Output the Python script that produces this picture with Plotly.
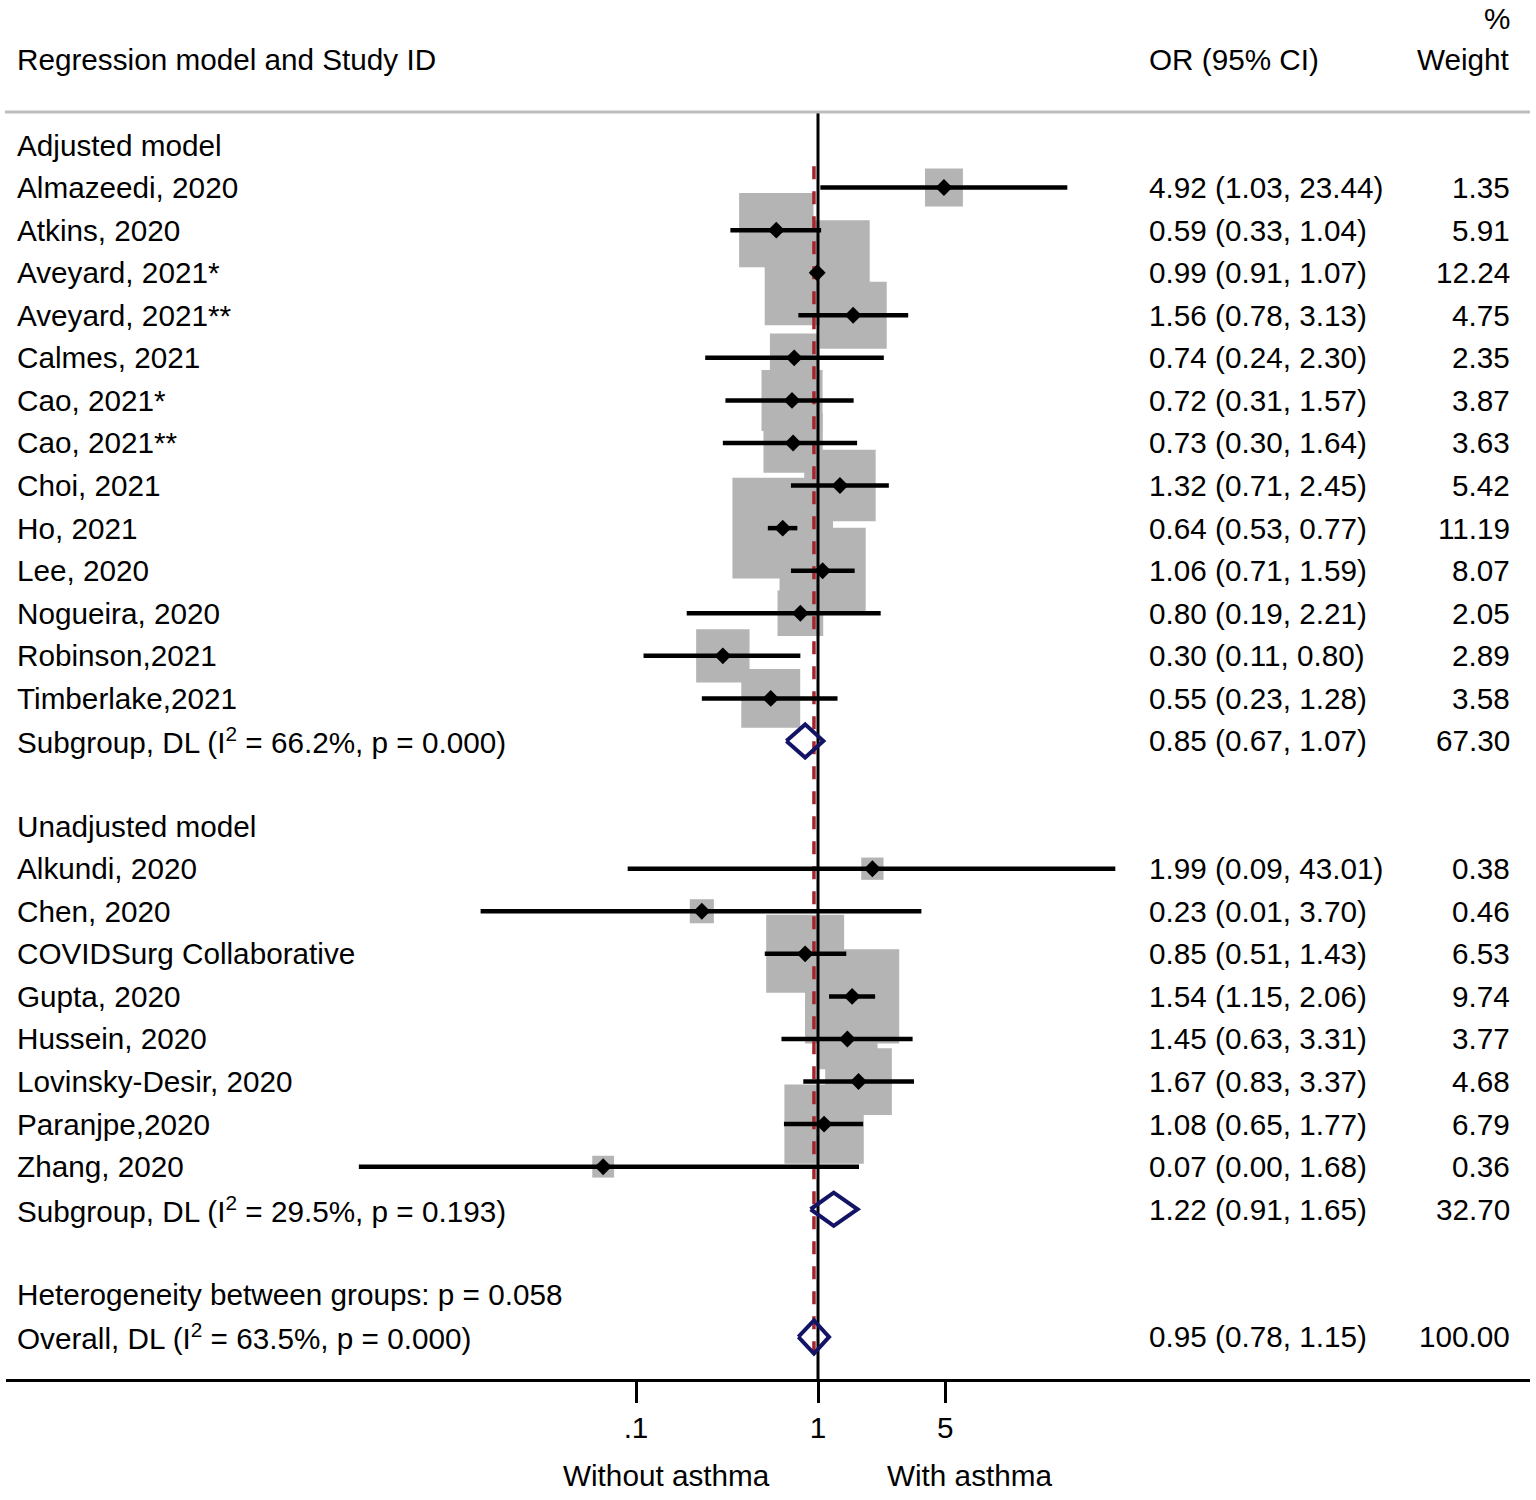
import math
import plotly.graph_objects as go

# ---------------- data ----------------
adj_labels = ["Almazeedi, 2020", "Atkins, 2020", "Aveyard, 2021*", "Aveyard, 2021**",
              "Calmes, 2021", "Cao, 2021*", "Cao, 2021**", "Choi, 2021", "Ho, 2021",
              "Lee, 2020", "Nogueira, 2020", "Robinson,2021", "Timberlake,2021"]
adj_or = [4.92, 0.59, 0.99, 1.56, 0.74, 0.72, 0.73, 1.32, 0.64, 1.06, 0.80, 0.30, 0.55]
adj_lo = [1.03, 0.33, 0.91, 0.78, 0.24, 0.31, 0.30, 0.71, 0.53, 0.71, 0.19, 0.11, 0.23]
adj_hi = [23.44, 1.04, 1.07, 3.13, 2.30, 1.57, 1.64, 2.45, 0.77, 1.59, 2.21, 0.80, 1.28]
adj_w = [1.35, 5.91, 12.24, 4.75, 2.35, 3.87, 3.63, 5.42, 11.19, 8.07, 2.05, 2.89, 3.58]

unadj_labels = ["Alkundi, 2020", "Chen, 2020", "COVIDSurg Collaborative", "Gupta, 2020",
                "Hussein, 2020", "Lovinsky-Desir, 2020", "Paranjpe,2020", "Zhang, 2020"]
unadj_or = [1.99, 0.23, 0.85, 1.54, 1.45, 1.67, 1.08, 0.066]
unadj_lo = [0.09, 0.014, 0.51, 1.15, 0.63, 0.83, 0.65, 0.003]
unadj_hi = [43.01, 3.70, 1.43, 2.06, 3.31, 3.37, 1.77, 1.68]
unadj_w = [0.38, 0.46, 6.53, 9.74, 3.77, 4.68, 6.79, 0.36]

group_titles = ["Adjusted model", "Unadjusted model"]
sub_labels = ["Subgroup, DL (I<sup>2</sup> = 66.2%, p = 0.000)",
              "Subgroup, DL (I<sup>2</sup> = 29.5%, p = 0.193)"]
sub_or = [0.85, 1.22]
sub_lo = [0.67, 0.91]
sub_hi = [1.07, 1.65]
sub_w = [67.30, 32.70]

het_label = "Heterogeneity between groups: p = 0.058"
overall_label = "Overall, DL (I<sup>2</sup> = 63.5%, p = 0.000)"
overall_or = 0.95
overall_lo = 0.78
overall_hi = 1.15
overall_w = 100.00

header_left = "Regression model and Study ID"
header_or = "OR (95% CI)"
header_w1 = "%"
header_w2 = "Weight"

tick_vals = [0.1, 1, 5]
tick_text = [".1", "1", "5"]
side_labels = ["Without asthma", "With asthma"]

# ---------------- layout constants (page pixels) ----------------
W, H = 1536, 1500
ROW0_PX, ROW_PX = 145.0, 42.57
AXIS_PX = 1379
X_L, X_R = 6, 1530
PX_PER_DEC = 182.0
PX_ONE = 818.0
FONT = "Liberation Sans, Arial, sans-serif"
FS = 29.7


def yrow(px):
    return (px - ROW0_PX) / ROW_PX


def xpaper(px):
    return (px - X_L) / (X_R - X_L)


def ypaper(px):
    return (AXIS_PX - px) / AXIS_PX


# ---------------- build rows ----------------
groups = [
    (group_titles[0], adj_labels, adj_or, adj_lo, adj_hi, adj_w),
    (group_titles[1], unadj_labels, unadj_or, unadj_lo, unadj_hi, unadj_w),
]
text_rows = []
studies = []
diamonds = []
r = 0
for gi, (title, labs, ors, los, his, ws) in enumerate(groups):
    text_rows.append((r, title, "", ""))
    r += 1
    for lab, e, lo, hi, w in zip(labs, ors, los, his, ws):
        text_rows.append((r, lab, f"{e:.2f} ({lo:.2f}, {hi:.2f})", f"{w:.2f}"))
        studies.append((r, e, lo, hi, w))
        r += 1
    text_rows.append((r, sub_labels[gi],
                      f"{sub_or[gi]:.2f} ({sub_lo[gi]:.2f}, {sub_hi[gi]:.2f})",
                      f"{sub_w[gi]:.2f}"))
    diamonds.append((r, sub_or[gi], sub_lo[gi], sub_hi[gi]))
    r += 2
text_rows.append((r, het_label, "", ""))
r += 1
text_rows.append((r, overall_label,
                  f"{overall_or:.2f} ({overall_lo:.2f}, {overall_hi:.2f})",
                  f"{overall_w:.2f}"))
diamonds.append((r, overall_or, overall_lo, overall_hi))
overall_row = r

fig = go.Figure()

# gray weight squares
fig.add_trace(go.Scatter(
    x=[s[1] for s in studies], y=[s[0] for s in studies], mode="markers",
    marker=dict(symbol="square", color="#b4b4b4", opacity=1,
                size=[4.6 + 28.7 * math.sqrt(s[4]) for s in studies],
                line=dict(width=0)),
    hoverinfo="skip"))

# red dashed overall line
fig.add_trace(go.Scatter(
    x=[overall_or, overall_or], y=[0.5, overall_row + 0.5], mode="lines",
    line=dict(color="#a3262f", width=3.5, dash="13px,12px"), hoverinfo="skip"))

# null line
y_top_line = yrow(112)
y_axis = yrow(AXIS_PX)
fig.add_trace(go.Scatter(
    x=[1, 1], y=[y_top_line, y_axis + 0.05], mode="lines",
    line=dict(color="black", width=3), hoverinfo="skip", cliponaxis=False))

# CI lines
cx, cy = [], []
for row, e, lo, hi, w in studies:
    cx += [lo, hi, None]
    cy += [row, row, None]
fig.add_trace(go.Scatter(x=cx, y=cy, mode="lines",
                         line=dict(color="black", width=4.5), hoverinfo="skip"))

# point estimates
fig.add_trace(go.Scatter(
    x=[s[1] for s in studies], y=[s[0] for s in studies], mode="markers",
    marker=dict(symbol="diamond", color="black", size=13, opacity=1,
                line=dict(width=0)),
    hoverinfo="skip"))

# pooled diamonds
hh = 0.39
for row, e, lo, hi in diamonds:
    fig.add_trace(go.Scatter(
        x=[lo, e, hi, e, lo], y=[row, row - hh, row, row + hh, row], mode="lines",
        line=dict(color="#141466", width=4), hoverinfo="skip"))

# ---------------- text ----------------
ann = []


def add_text(px_x, y, txt, anchor, yref="y"):
    ann.append(dict(x=xpaper(px_x), xref="paper", y=y, yref=yref, text=txt,
                    showarrow=False, xanchor=anchor, yanchor="middle",
                    font=dict(family=FONT, size=FS, color="black")))


LEFT_X, OR_X, W_X = 15, 1147, 1512

for row, lab, ort, wt in text_rows:
    add_text(LEFT_X, row, lab, "left")
    if ort:
        add_text(OR_X, row, ort, "left")
    if wt:
        add_text(W_X, row, wt, "right")

add_text(LEFT_X, yrow(59), header_left, "left")
add_text(OR_X, yrow(59), header_or, "left")
add_text(W_X, yrow(59), header_w2, "right")
add_text(W_X, yrow(18), header_w1, "right")
add_text(666, ypaper(1475), side_labels[0], "center", yref="paper")
add_text(969, ypaper(1475), side_labels[1], "center", yref="paper")

shapes = [dict(type="line", xref="paper", yref="y", x0=xpaper(5), x1=xpaper(1530),
               y0=y_top_line, y1=y_top_line, line=dict(color="#bdbdbd", width=3))]

fig.update_layout(
    width=W, height=H,
    margin=dict(l=X_L, r=W - X_R, t=0, b=H - AXIS_PX, pad=0),
    paper_bgcolor="white", plot_bgcolor="white", showlegend=False, hovermode=False,
    annotations=ann, shapes=shapes,
    xaxis=dict(type="log",
               range=[(X_L - PX_ONE) / PX_PER_DEC, (X_R - PX_ONE) / PX_PER_DEC],
               tickvals=tick_vals, ticktext=tick_text, ticks="outside", ticklen=21,
               tickwidth=3, tickcolor="black", showline=True, linecolor="black",
               linewidth=3, showgrid=False, zeroline=False, ticklabelstandoff=-1,
               tickfont=dict(family=FONT, size=FS, color="black"), fixedrange=True),
    yaxis=dict(range=[y_axis, yrow(0)], visible=False, showgrid=False,
               zeroline=False, fixedrange=True),
)

fig.write_html("out.html", config={"displayModeBar": False},
               post_script="document.body.style.margin='0';document.body.style.padding='0';")
